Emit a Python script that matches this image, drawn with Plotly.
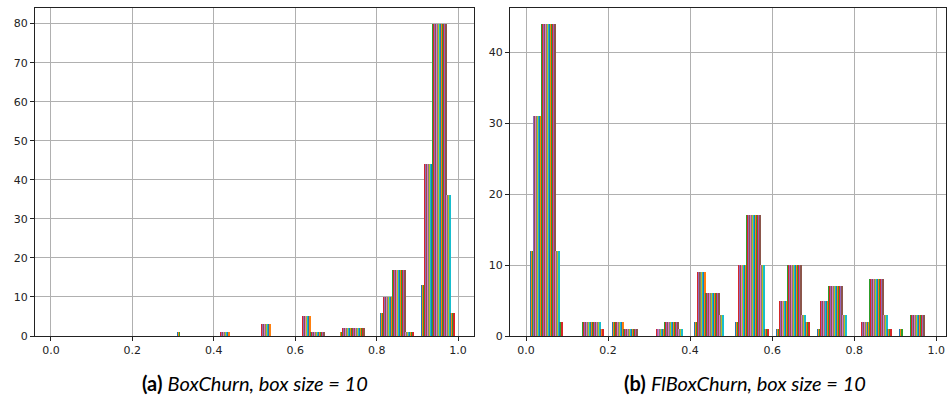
import plotly.graph_objects as go

# ---- data ----
bin_edges_left = [0.0, 0.1, 0.2, 0.3, 0.4, 0.5, 0.6, 0.7, 0.8, 0.9]   # bin left edges (width 0.1)
class_sizes = [3, 9, 14, 4, 4]        # datasets sharing the same histogram, in drawing order

# panel (a) BoxChurn: counts per class per bin
a_class1 = [0, 0, 0, 1, 0, 0, 0, 1, 6, 13]
a_class2 = [0, 0, 0, 0, 1, 3, 5, 2, 10, 44]
a_class3 = [0, 0, 0, 0, 0, 0, 1, 2, 17, 80]
a_class4 = [0, 0, 0, 0, 0, 0, 0, 0, 1, 36]
a_class5 = [0, 0, 0, 0, 0, 0, 0, 0, 1, 6]

# panel (b) FlBoxChurn
b_class1 = [12, 0, 2, 0, 2, 2, 1, 1, 0, 1]
b_class2 = [31, 0, 2, 1, 9, 10, 5, 5, 2, 0]
b_class3 = [44, 2, 1, 2, 6, 17, 10, 7, 8, 3]
b_class4 = [12, 2, 0, 1, 3, 10, 3, 3, 3, 0]
b_class5 = [2, 1, 0, 0, 0, 1, 2, 0, 1, 0]

x_ticks = [0.0, 0.2, 0.4, 0.6, 0.8, 1.0]
x_tick_labels = ["0.0", "0.2", "0.4", "0.6", "0.8", "1.0"]
a_y_ticks = [0, 10, 20, 30, 40, 50, 60, 70, 80]
b_y_ticks = [0, 10, 20, 30, 40]

caption_a = "<b>(a)</b> <i>BoxChurn, box size = 10</i>"
caption_b = "<b>(b)</b> <i>FlBoxChurn, box size = 10</i>"

tab10 = ["#1f77b4", "#ff7f0e", "#2ca02c", "#d62728", "#9467bd",
         "#8c564b", "#e377c2", "#7f7f7f", "#bcbd22", "#17becf"]

BIN_W = 0.1
RWIDTH = 0.8


def build_bars(classes):
    n = sum(class_sizes)
    w = RWIDTH * BIN_W / n
    xs, ys, cs = [], [], []
    for b, left in enumerate(bin_edges_left):
        start = left + BIN_W * (1 - RWIDTH) / 2
        d = 0
        for cls, size in zip(classes, class_sizes):
            for _ in range(size):
                xs.append(start + (d + 0.5) * w)
                ys.append(cls[b])
                cs.append(tab10[d % 10])
                d += 1
    return xs, ys, cs, w


fig = go.Figure()
for classes, xa, ya in [
    ([a_class1, a_class2, a_class3, a_class4, a_class5], "x", "y"),
    ([b_class1, b_class2, b_class3, b_class4, b_class5], "x2", "y2"),
]:
    xs, ys, cs, w = build_bars(classes)
    fig.add_trace(go.Bar(x=xs, y=ys, width=w, marker=dict(color=cs, line=dict(width=0)),
                         xaxis=xa, yaxis=ya, showlegend=False, hoverinfo="x+y"))

W, H = 949, 406
ybot = (H - 336) / H
ytop = (H - 8) / H

axis_common = dict(showgrid=True, gridcolor="#b0b0b0", gridwidth=1,
                   showline=True, linecolor="#222222", linewidth=1, mirror=True,
                   ticks="outside", ticklen=4, tickcolor="#222222",
                   tickfont=dict(family="DejaVu Sans", size=11, color="#222222"),
                   zeroline=False, automargin=False)

fig.update_layout(
    width=W, height=H, margin=dict(l=0, r=0, t=0, b=0, autoexpand=False),
    paper_bgcolor="white", plot_bgcolor="white", barmode="overlay", bargap=0,
    xaxis=dict(domain=[35 / W, 474 / W], range=[-0.039, 1.039], tickvals=x_ticks,
               ticktext=x_tick_labels, anchor="y", **axis_common),
    yaxis=dict(domain=[ybot, ytop], range=[0, 84], tickvals=a_y_ticks, anchor="x", **axis_common),
    xaxis2=dict(domain=[510 / W, 946 / W], range=[-0.039, 1.0237], tickvals=x_ticks,
                ticktext=x_tick_labels, anchor="y2", **axis_common),
    yaxis2=dict(domain=[ybot, ytop], range=[0, 46.2], tickvals=b_y_ticks, anchor="x2", **axis_common),
    annotations=[
        dict(text=caption_a, x=255 / W, y=(H - 383) / H, xref="paper", yref="paper",
             showarrow=False, xanchor="center", yanchor="middle",
             font=dict(family="Lato", size=20, color="black")),
        dict(text=caption_b, x=745 / W, y=(H - 383) / H, xref="paper", yref="paper",
             showarrow=False, xanchor="center", yanchor="middle",
             font=dict(family="Lato", size=20, color="black")),
    ],
)

fig.write_html("out.html", config={"displayModeBar": False},
               post_script="document.body.style.margin='0';document.body.style.overflow='hidden';")
